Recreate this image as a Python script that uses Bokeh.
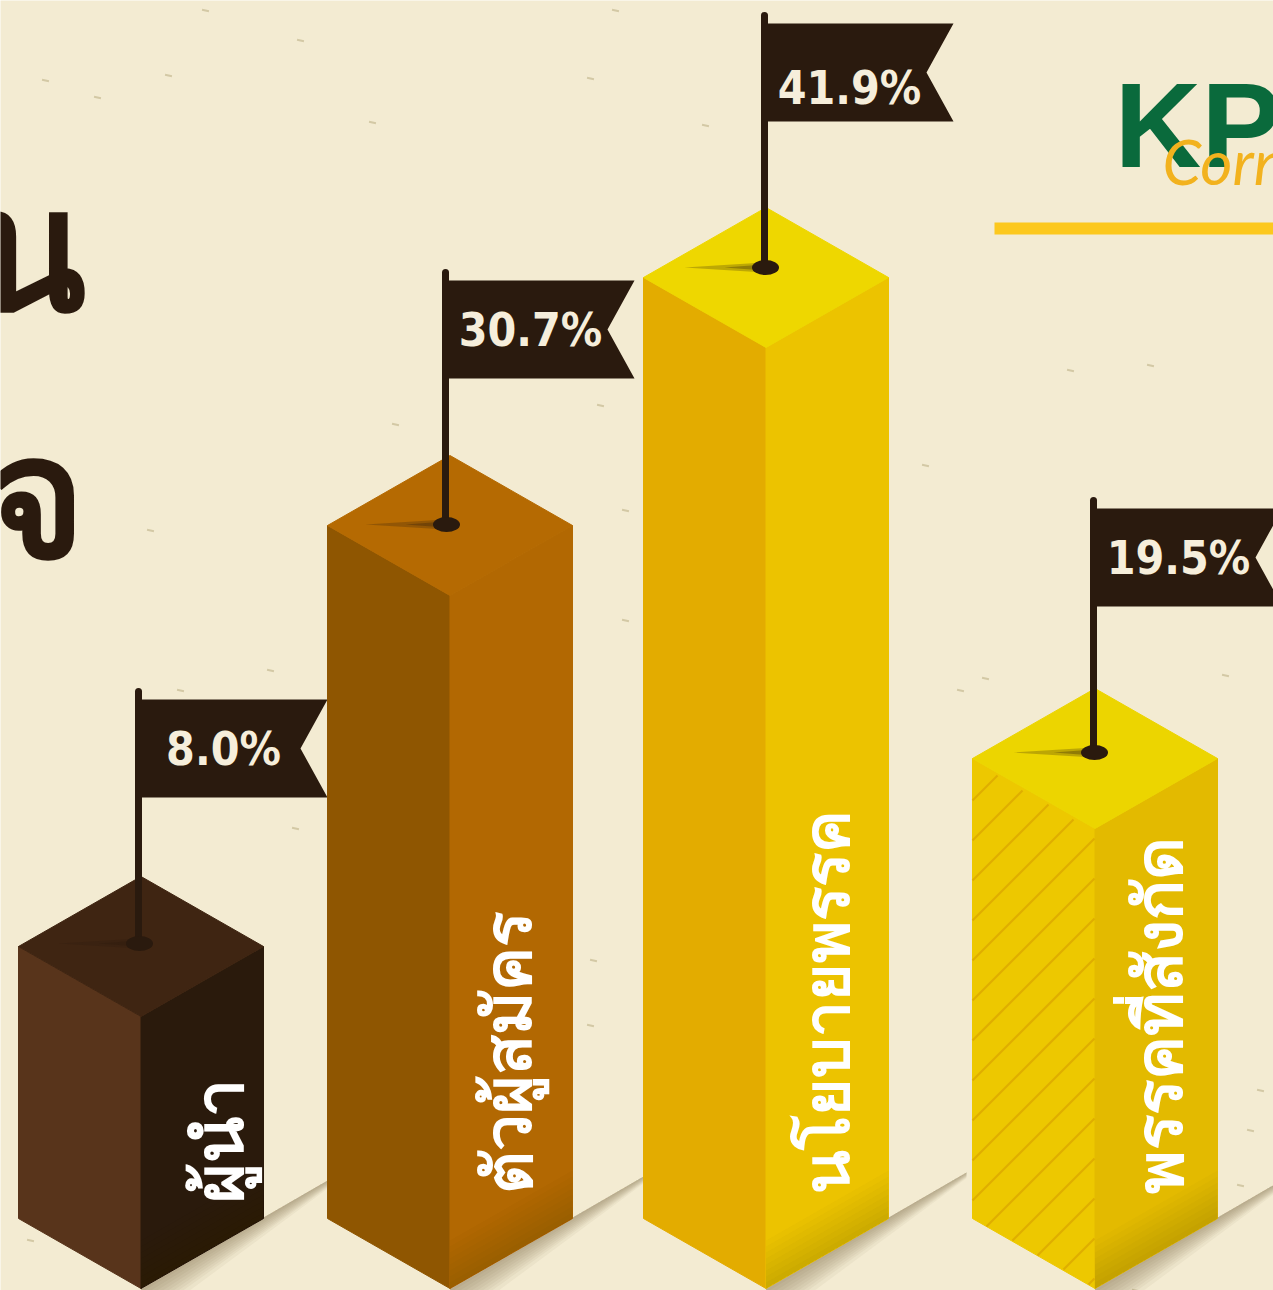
from bokeh.plotting import figure
from bokeh.models import Range1d
from bokeh.core.properties import value
from bokeh.embed import file_html
from bokeh.resources import INLINE

categories = ["ผู้นำ", "ตัวผู้สมัคร", "นโยบายพรรค", "พรรคที่สังกัด"]
percent_labels = ["8.0%", "30.7%", "41.9%", "19.5%"]
drawn_heights = [272, 693, 941, 460]

W, H = 1273, 1290
FLOOR = 2
HALF = 122.5
DROP = 70
centers = [140.5, 449.5, 765.5, 1094.5]
pole_lift = [73, 71, 80, 76]
pole_x = [138, 445, 764, 1093]
pct_shift = [0, 0, 15, 0]
name_x = [216, 505, 824, 1156]
name_y = [85, 94, 94, 94]
name_size = ["68px", "66px", "64px", "66px"]
top_cols = ["#3f2512", "#b56a02", "#eed700", "#ecd500"]
left_cols = ["#58341b", "#8f5601", "#e3ac00", "#edc800"]
right_cols = ["#2a1a0c", "#b26802", "#ecc300", "#e3ba00"]
INK = "#2a1a0e"
PAPER = "#f3ebd2"
def Y(px):
    return H - px

p = figure(width=W, height=H, x_range=Range1d(0, W), y_range=Range1d(0, H),
           toolbar_location=None, output_backend="svg", min_border=0,
           background_fill_color=PAPER, border_fill_color=PAPER, outline_line_color=None)
p.axis.visible = False
p.grid.visible = False
p.styles = {"position": "absolute", "left": "0", "top": "0"}

speck_x = [97, 168, 372, 300, 590, 395, 600, 625, 150, 985, 960, 295, 1070, 1240, 593, 590, 180, 270, 705, 1225, 1150, 615, 205, 45, 30, 1260, 1135, 925, 625, 1250]
speck_y = [97, 75, 122, 40, 78, 424, 405, 510, 530, 678, 690, 828, 370, 1185, 960, 1025, 690, 670, 125, 675, 365, 10, 10, 80, 1240, 1090, 1290, 465, 620, 1130]
p.rect(speck_x, [Y(v) for v in speck_y], width=7, height=2, angle=-0.2,
       fill_color="#cfc4a0", line_color=None, fill_alpha=0.9)

p.quad(left=[994], right=[W], bottom=[Y(234)], top=[Y(222)], fill_color="#fcc81e", line_color=None)
p.text([1114], [Y(124)], text=["KP"], text_font=value("Liberation Sans"), text_font_style="bold",
       text_font_size="120px", text_color="#0a6a3c", text_baseline="alphabetic")
p.text([1162], [Y(160)], text=["Corn"], text_font=value("Lato"), text_font_style="italic",
       text_font_size="62px", text_color="#f2b21e", text_baseline="alphabetic")

p.text([85], [Y(243)], text=["น"], text_align="right", text_baseline="alphabetic",
       text_font=value("Noto Sans"), text_font_style="bold", text_font_size="170px", text_color=INK)
p.text([85], [Y(490)], text=["รจ"], text_align="right", text_baseline="alphabetic",
       text_font=value("Noto Sans"), text_font_style="bold", text_font_size="170px", text_color=INK)

for i, h in enumerate(drawn_heights):
    cx = centers[i]
    lx, rx = cx - HALF, cx + HALF
    front_b = FLOOR
    front_t = FLOOR + h
    side_b = front_b + DROP
    side_t = front_t + DROP
    apex = front_t + 2 * DROP

    # floor shadow, fading away from the bar's right edge and tapering to its far end
    for d in (4, 8, 12, 16, 20, 24, 28, 32, 38):
        p.patch([cx, rx + 78, rx + 78, cx], [front_b, side_b + 46, side_b + 46 - d * 0.15, front_b - d],
                fill_color="#5a4a30", fill_alpha=0.05, line_color=None)

    p.patch([lx, cx, cx, lx], [side_t, front_t, front_b, side_b], fill_color=left_cols[i],
            line_color=left_cols[i], line_width=1)
    p.patch([cx, rx, rx, cx], [front_t, side_t, side_b, front_b], fill_color=right_cols[i],
            line_color=right_cols[i], line_width=1)
    p.patch([lx, cx, rx, cx], [side_t, apex, side_t, front_t], fill_color=top_cols[i],
            line_color=top_cols[i], line_width=1)

    # darkening near the floor
    for d in (6, 12, 18, 24, 30, 36, 42, 48):
        p.patch([cx, rx, rx, cx], [front_b + d, side_b + d, side_b, front_b],
                fill_color="#3a2400", fill_alpha=0.018, line_color=None)

    if i == 3:
        for c in range(800, 1560, 40):
            # 45 degree stripes on the left face, clipped to it
            pts = []
            for x10 in range(int(lx), int(cx) + 1):
                ypx = c - (x10 - lx)
                tp = Y(side_t) + (x10 - lx) * DROP / (cx - lx) + 2
                bt = Y(side_b) + (x10 - lx) * DROP / (cx - lx)
                if tp <= ypx <= bt:
                    pts.append((x10, Y(ypx)))
            if pts:
                p.line([pts[0][0], pts[-1][0]], [pts[0][1], pts[-1][1]], line_color="#dfae00", line_width=2.2)

    base = front_t + pole_lift[i]
    px = pole_x[i]
    p.patch([px, px - 80, px], [base + 5, base, base - 5], fill_color=INK, fill_alpha=0.25, line_color=None)
    p.patch([px, px - 40, px], [base + 3, base, base - 3], fill_color=INK, fill_alpha=0.3, line_color=None)
    p.line([px, px], [base, base + 252], line_color=INK, line_width=7, line_cap="round")
    p.ellipse([px + 1], [base], width=27, height=15, fill_color=INK, line_color=None)
    ft, fb = base + 244, base + 146
    fm = (ft + fb) / 2
    p.patch([px, px + 189, px + 162, px + 189, px], [ft, ft, fm, fb, fb], fill_color=INK, line_color=None)
    p.text([px + 85], [fm - pct_shift[i]], text=[percent_labels[i]], text_align="center", text_baseline="middle",
           text_font=value("DejaVu Sans Condensed"), text_font_style="bold", text_font_size="46px", text_color="#f6eedb")

    p.text([name_x[i]], [FLOOR + name_y[i]], text=[categories[i]], angle=1.5708, text_align="left",
           text_baseline="alphabetic", text_font=value("Noto Sans"), text_font_style="bold",
           text_font_size=name_size[i], text_color="#ffffff")

open("out.html", "w").write(file_html(p, INLINE))
